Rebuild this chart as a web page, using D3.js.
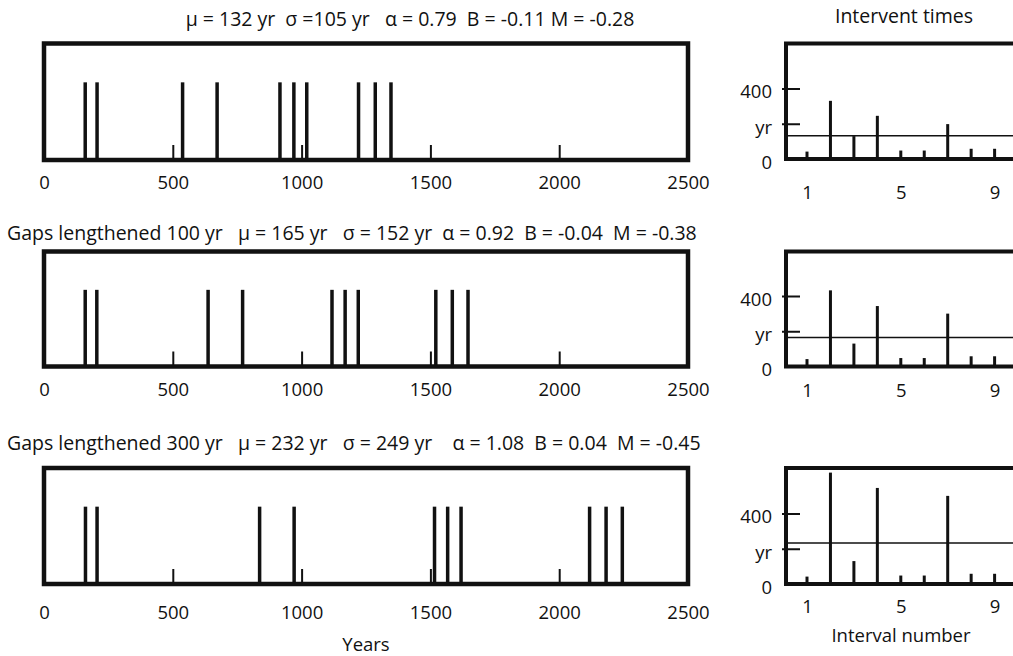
<!DOCTYPE html>
<html>
<head>
<meta charset="utf-8">
<script src="https://cdn.jsdelivr.net/npm/d3@7"></script>
<style>
  body { margin: 0; background: #fff; }
  svg { display: block; font-family: "Open Sans", sans-serif; }
  text { white-space: pre; fill: #111; }
</style>
</head>
<body>
<svg id="chart" width="1013" height="656"></svg>
<script>
// Event dates (years) for the three sequences
const eventsOriginal = [160, 206, 538, 672, 916, 970, 1020, 1221, 1286, 1347];
const eventsGaps100  = [160, 205, 637, 771, 1118, 1169, 1220, 1521, 1585, 1646];
const eventsGaps300  = [161, 206, 837, 971, 1516, 1567, 1619, 2118, 2182, 2245];

// Intervent times (yr) for interval numbers 1..9
const intervalNumbers   = [1, 2, 3, 4, 5, 6, 7, 8, 9];
const intervalsOriginal = [42, 330, 130, 245, 48, 48, 198, 58, 58];
const intervalsGaps100  = [42, 432, 130, 343, 48, 48, 300, 58, 58];
const intervalsGaps300  = [42, 632, 130, 545, 48, 48, 500, 58, 58];

// Mean intervent time (yr) of each sequence
const meanIntervals = [132, 165, 232];

const panelTitles = [
  "\u03bc = 132 yr  \u03c3 =105 yr   \u03b1 = 0.79  B = -0.11 M = -0.28",
  "Gaps lengthened 100 yr   \u03bc = 165 yr   \u03c3 = 152 yr  \u03b1 = 0.92  B = -0.04  M = -0.38",
  "Gaps lengthened 300 yr   \u03bc = 232 yr   \u03c3 = 249 yr    \u03b1 = 1.08  B = 0.04  M = -0.45"
];

const yearTicks = [0, 500, 1000, 1500, 2000, 2500];
const intervalTicks = [1, 5, 9];
const intervalYTicks = [0, 200, 400];
const intervalYLabels = ["0", "yr", "400"];

// Layout of the three rows
const rows = [
  { events: eventsOriginal, intervals: intervalsOriginal, mean: meanIntervals[0], title: panelTitles[0],
    top: 43.5, bottom: 160, rBottom: 159, titleX: 410, titleY: 18, titleAnchor: "middle",
    yearPad: 16, numPad: 27 },
  { events: eventsGaps100, intervals: intervalsGaps100, mean: meanIntervals[1], title: panelTitles[1],
    top: 251.5, bottom: 366.5, rBottom: 366.5, titleX: 7, titleY: 232, titleAnchor: "start",
    yearPad: 16, numPad: 17.5 },
  { events: eventsGaps300, intervals: intervalsGaps300, mean: meanIntervals[2], title: panelTitles[2],
    top: 468, bottom: 584, rBottom: 584, titleX: 7, titleY: 442, titleAnchor: "start",
    yearPad: 21.5, numPad: 16 }
];

const titleSize = 19.5;
const tickSize = 18.5;

const svg = d3.select("#chart");

const x = d3.scaleLinear().domain([0, 2500]).range([44, 688]);
const xR = d3.scaleLinear().domain([1, 9]).range([807, 807 + 8 * 23.45]);
const rLeft = 786;

rows.forEach(row => {
  const g = svg.append("g");

  // ---- event sequence panel ----
  const y = d3.scaleLinear().domain([0, 1.5]).range([row.bottom, row.top]);

  g.append("text")
    .attr("x", row.titleX).attr("y", row.titleY)
    .attr("text-anchor", row.titleAnchor)
    .attr("dominant-baseline", "central")
    .attr("font-size", titleSize)
    .text(row.title);

  const axis = g.append("g")
    .attr("transform", `translate(0,${row.bottom})`)
    .call(d3.axisBottom(x).tickValues(yearTicks).tickSizeInner(-15).tickSizeOuter(0)
      .tickPadding(row.yearPad).tickFormat(d3.format("d")));
  axis.select(".domain").remove();
  axis.selectAll(".tick line").attr("stroke", "#111").attr("stroke-width", 2);
  axis.selectAll(".tick text").attr("font-size", tickSize)
    .attr("font-family", "Open Sans, sans-serif").attr("fill", "#111");

  g.selectAll("line.event").data(row.events).join("line")
    .attr("class", "event")
    .attr("x1", d => x(d)).attr("x2", d => x(d))
    .attr("y1", y(0)).attr("y2", y(1))
    .attr("stroke", "#111").attr("stroke-width", 3.5);

  g.append("rect")
    .attr("x", x(0)).attr("y", row.top)
    .attr("width", x(2500) - x(0)).attr("height", row.bottom - row.top)
    .attr("fill", "none").attr("stroke", "#111").attr("stroke-width", 4.5);

  // ---- intervent time panel ----
  const yR = d3.scaleLinear().domain([0, 400]).range([row.rBottom, row.rBottom - 70.5]);

  const yAx = g.append("g")
    .attr("transform", `translate(${rLeft},0)`)
    .call(d3.axisLeft(yR).tickValues(intervalYTicks).tickSize(0).tickPadding(14)
      .tickFormat((d, i) => intervalYLabels[i]));
  yAx.select(".domain").remove();
  yAx.selectAll(".tick line")
    .attr("x1", d => d === 0 ? 0 : -4).attr("x2", d => d === 0 ? 0 : 14)
    .attr("stroke", "#111").attr("stroke-width", 2);
  yAx.selectAll(".tick text").attr("font-size", tickSize).attr("dy", "0.5em")
    .attr("font-family", "Open Sans, sans-serif").attr("fill", "#111");

  const xAx = g.append("g")
    .attr("transform", `translate(0,${row.rBottom})`)
    .call(d3.axisBottom(xR).tickValues(intervalTicks).tickSize(0).tickPadding(row.numPad));
  xAx.select(".domain").remove();
  xAx.selectAll(".tick text").attr("font-size", tickSize)
    .attr("font-family", "Open Sans, sans-serif").attr("fill", "#111");

  g.selectAll("line.interval").data(row.intervals).join("line")
    .attr("class", "interval")
    .attr("x1", (d, i) => xR(intervalNumbers[i])).attr("x2", (d, i) => xR(intervalNumbers[i]))
    .attr("y1", yR(0)).attr("y2", d => yR(d))
    .attr("stroke", "#111").attr("stroke-width", 3);

  g.append("line")
    .attr("x1", rLeft).attr("x2", 1013)
    .attr("y1", yR(row.mean)).attr("y2", yR(row.mean))
    .attr("stroke", "#111").attr("stroke-width", 1.5);

  g.append("rect")
    .attr("x", rLeft).attr("y", row.top)
    .attr("width", 1040 - rLeft).attr("height", row.rBottom - row.top)
    .attr("fill", "none").attr("stroke", "#111").attr("stroke-width", 4);
});

// Shared labels
svg.append("text").attr("x", 904).attr("y", 15).attr("text-anchor", "middle")
  .attr("dominant-baseline", "central").attr("font-size", 19.5).text("Intervent times");
svg.append("text").attr("x", 366).attr("y", 643).attr("text-anchor", "middle")
  .attr("dominant-baseline", "central").attr("font-size", 18.5).text("Years");
svg.append("text").attr("x", 901).attr("y", 634).attr("text-anchor", "middle")
  .attr("dominant-baseline", "central").attr("font-size", 18.5).text("Interval number");
</script>
</body>
</html>
